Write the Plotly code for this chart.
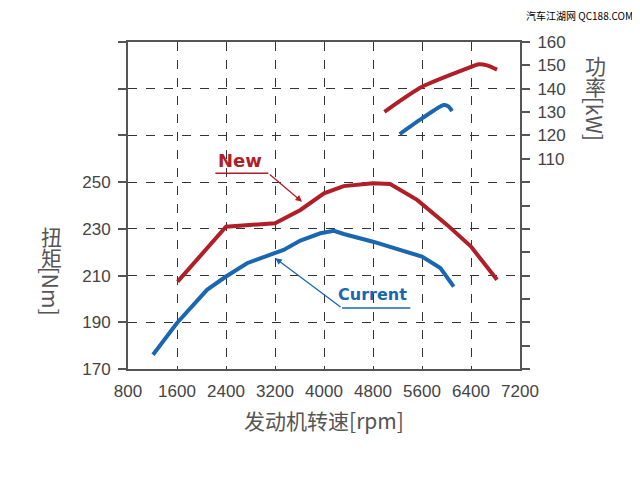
import plotly.graph_objects as go

# torque curves (left axis, Nm)
new_torque_rpm = [1610, 2400, 3200, 3615, 4000, 4320, 4800, 5080, 5520, 6010, 6400, 6825]
new_torque = [207.4, 230.9, 232.4, 238.1, 245.2, 248.3, 249.5, 249.2, 242.4, 231.7, 222.4, 208.2]

cur_torque_rpm = [1208, 1600, 2090, 2400, 2743, 3200, 3340, 3615, 3940, 4163, 4322, 4800, 5600, 5900, 6118]
cur_torque = [176.1, 189.7, 203.9, 209.6, 215.3, 219.6, 221.0, 225.0, 228.1, 229.2, 227.8, 224.5, 218.1, 213.2, 205.3]

# power curves (right axis, kW)
new_power_rpm = [4987, 5600, 6400, 6527, 6663, 6825]
new_power = [130.1, 140.8, 149.3, 150.5, 150.0, 148.2]

cur_power_rpm = [5236, 5600, 5955, 6036, 6090]
cur_power = [120.6, 127.3, 133.0, 132.3, 130.4]

x_ticks = [800, 1600, 2400, 3200, 4000, 4800, 5600, 6400, 7200]
torque_ticks = [170, 190, 210, 230, 250, 270, 290, 310]
torque_labels = ["170", "190", "210", "230", "250", "", "", ""]
power_ticks = list(range(20, 161, 10))
power_labels = [str(v) if v >= 110 else "" for v in power_ticks]

RED = "#b01e27"
BLUE = "#1a67b0"
AXIS = "#555555"
TXT = "#444444"

# the html body keeps its default 8px margin, so the figure is drawn 8px smaller
OFF = 8
W, H = 640 - OFF, 479 - OFF
ML, MR, MT, MB = 128 - OFF, 120, 42 - OFF, 110

fig = go.Figure()
fig.add_trace(go.Scatter(x=new_torque_rpm, y=new_torque, mode="lines",
                         line=dict(color=RED, width=4), name="New"))
fig.add_trace(go.Scatter(x=cur_torque_rpm, y=cur_torque, mode="lines",
                         line=dict(color=BLUE, width=4), name="Current"))
fig.add_trace(go.Scatter(x=new_power_rpm, y=new_power, mode="lines", yaxis="y2",
                         line=dict(color=RED, width=4, shape="spline", smoothing=0.6)))
fig.add_trace(go.Scatter(x=cur_power_rpm, y=cur_power, mode="lines", yaxis="y2",
                         line=dict(color=BLUE, width=4, shape="spline", smoothing=0.6)))

tick_font = dict(family="Liberation Sans, Arial, sans-serif", size=17, color=TXT)
title_font = dict(family="Noto Sans CJK SC, sans-serif", size=21, color="#555555")

fig.update_layout(
    width=W, height=H,
    margin=dict(l=ML, r=MR, t=MT, b=MB),
    paper_bgcolor="white", plot_bgcolor="white",
    showlegend=False,
    xaxis=dict(range=[800, 7200], tickvals=x_ticks, showgrid=True,
               gridcolor="#333333", griddash="dash", gridwidth=1.2,
               showline=True, linecolor=AXIS, linewidth=2, mirror=True,
               zeroline=False, ticks="", tickfont=tick_font,
               ticklabelstandoff=6,
               title=dict(text="发动机转速[rpm]", font=title_font, standoff=14)),
    yaxis=dict(range=[170, 310], tickvals=torque_ticks, ticktext=torque_labels,
               showgrid=True, gridcolor="#333333", griddash="dash", gridwidth=1.2,
               showline=True, linecolor=AXIS, linewidth=2, zeroline=False,
               ticks="outside", ticklen=8, tickcolor=AXIS, tickwidth=1.5,
               tickfont=tick_font, ticklabelstandoff=4),
    yaxis2=dict(range=[20, 160], tickvals=power_ticks, ticktext=power_labels,
                overlaying="y", side="right", showgrid=False,
                showline=True, linecolor=AXIS, linewidth=2, zeroline=False,
                ticks="outside", ticklen=8, tickcolor=AXIS, tickwidth=1.5,
                tickfont=tick_font, ticklabelstandoff=4),
)

# callout underlines
fig.add_shape(type="line", xref="x", yref="y", x0=2226, x1=3091, y0=253.8, y1=253.8,
              line=dict(color=RED, width=1.5))
fig.add_shape(type="line", xref="x", yref="y", x0=4295, x1=5410, y0=196.1, y1=196.1,
              line=dict(color=BLUE, width=1.5))

# callout arrows
fig.add_annotation(x=3641, y=241.6, ax=3091, ay=253.8, xref="x", yref="y",
                   axref="x", ayref="y", text="", showarrow=True, arrowhead=2,
                   arrowsize=1, arrowwidth=1.3, arrowcolor=RED, standoff=0)
fig.add_annotation(x=3205, y=217.4, ax=4295, ay=196.1, xref="x", yref="y",
                   axref="x", ayref="y", text="", showarrow=True, arrowhead=2,
                   arrowsize=1, arrowwidth=1.3, arrowcolor=BLUE, standoff=0)

label_font = "Verdana, DejaVu Sans, sans-serif"
fig.add_annotation(x=2634, y=259.3, xref="x", yref="y", text="<b>New</b>", showarrow=False,
                   font=dict(family=label_font, size=18, color=RED))
fig.add_annotation(x=4784, y=202.0, xref="x", yref="y", text="<b>Current</b>", showarrow=False,
                   font=dict(family=label_font, size=16, color=BLUE))


# helpers: window pixel -> paper fraction
def px_x(px):
    return (px - 128) / (W - ML - MR)


def px_y(py):
    return (369.3 - py) / (H - MT - MB)


def side_text(text, px, py, angle=0):
    fig.add_annotation(x=px_x(px), y=px_y(py), xref="paper", yref="paper", text=text,
                       xanchor="center", yanchor="middle", textangle=angle,
                       showarrow=False, font=title_font, borderpad=0)


# axis titles, CJK upright like the original
side_text("扭", 51, 236)
side_text("矩", 51, 257)
side_text("[Nm]", 51, 291, angle=90)

side_text("功", 595, 65)
side_text("率", 595, 86)
side_text("[kW]", 595, 119, angle=90)

# watermark
fig.add_annotation(x=px_x(634), y=px_y(16), xref="paper", yref="paper",
                   xanchor="right", yanchor="middle", borderpad=0,
                   text="汽车江湖网 QC188.COM", showarrow=False,
                   font=dict(family="Noto Sans CJK SC, sans-serif", size=10, color="#000000"))

fig.write_html("out.html")
